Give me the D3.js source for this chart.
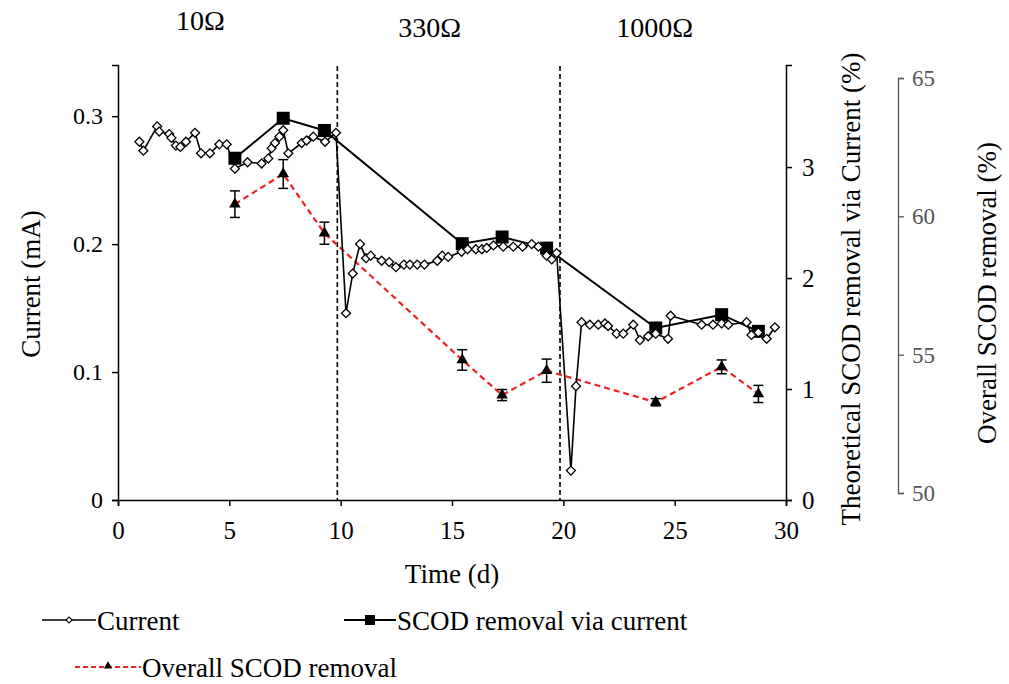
<!DOCTYPE html>
<html>
<head>
<meta charset="utf-8">
<script src="https://cdn.jsdelivr.net/npm/d3@7"></script>
<style>
  html, body { margin: 0; padding: 0; background: #fff; }
  svg { display: block; }
  text { font-family: "Liberation Serif", "Times New Roman", serif; }
</style>
</head>
<body>
<svg id="chart" width="1009" height="684"></svg>
<script>
// Current (mA) logged over the run
const currentDays = [
  0.96, 1.14, 1.76, 1.85, 2.30, 2.40, 2.60, 2.80, 3.05, 3.46, 3.73, 4.13, 4.55, 4.88,
  5.25, 5.82, 6.45, 6.75, 6.90, 7.05, 7.25, 7.42, 7.65, 8.25, 8.47, 8.77, 9.30, 9.79,
  10.24, 10.54, 10.87, 11.14, 11.35, 11.84, 12.18, 12.48, 12.84, 13.11, 13.44, 13.76,
  14.34, 14.56, 14.83, 15.43, 15.70, 16.07, 16.34, 16.56, 16.86, 17.30, 17.75, 18.17,
  18.58, 18.88, 19.25, 19.48, 19.70,
  20.34, 20.57, 20.82, 21.19, 21.57, 21.87, 22.01, 22.39, 22.69, 23.14, 23.44, 23.81,
  24.15, 24.70, 24.82, 26.21, 26.72, 27.11, 27.41, 28.23, 28.45, 28.76, 29.13, 29.50
];
const currentValues = [
  0.280, 0.273, 0.292, 0.288, 0.286, 0.283, 0.277, 0.276, 0.280, 0.287, 0.271, 0.271, 0.278, 0.278,
  0.259, 0.264, 0.263, 0.267, 0.275, 0.279, 0.284, 0.289, 0.271, 0.279, 0.281, 0.284, 0.280, 0.287,
  0.146, 0.177, 0.200, 0.189, 0.191, 0.187, 0.186, 0.182, 0.184, 0.184, 0.184, 0.184,
  0.187, 0.191, 0.190, 0.194, 0.196, 0.196, 0.196, 0.197, 0.199, 0.198, 0.198, 0.198,
  0.200, 0.198, 0.191, 0.188, 0.193,
  0.023, 0.089, 0.139, 0.137, 0.137, 0.138, 0.136, 0.130, 0.130, 0.137, 0.125, 0.128,
  0.130, 0.126, 0.144, 0.137, 0.137, 0.138, 0.137, 0.139, 0.129, 0.131, 0.126, 0.135
];

// Sampling days for SCOD measurements
const sampleDays = [5.25, 7.42, 9.27, 15.46, 17.25, 19.25, 24.15, 27.11, 28.76];
// Theoretical SCOD removal via current (%)
const scodViaCurrent = [3.08, 3.44, 3.33, 2.31, 2.37, 2.27, 1.55, 1.67, 1.52];
// Overall SCOD removal (%) and its error
const scodOverall = [60.44, 61.53, 59.39, 54.81, 53.54, 54.42, 53.28, 54.56, 53.58];
const scodOverallErr = [0.48, 0.52, 0.40, 0.37, 0.20, 0.42, 0.13, 0.25, 0.31];

// Resistor switch days and stage labels
const switchDays = [9.85, 19.85];
const stageLabels = ["10Ω", "330Ω", "1000Ω"];
const stageLabelDays = [3.7, 14.0, 24.1];

const xTicks = [0, 5, 10, 15, 20, 25, 30];
const leftTicks = [0, 0.1, 0.2, 0.3];
const rightTicks = [0, 1, 2, 3];
const thirdTicks = [50, 55, 60, 65];

const svg = d3.select("#chart");
const font = "Liberation Serif, Times New Roman, serif";

const x = d3.scaleLinear().domain([0, 30]).range([118, 786]);
const yLeft = d3.scaleLinear().domain([0, 0.34]).range([500, 65]);
const yRight = d3.scaleLinear().domain([0, 3.92]).range([500, 65]);
const yThird = d3.scaleLinear().domain([50, 65]).range([493, 78]);

function styleAxis(g, color, size) {
  g.selectAll("path, line").attr("stroke", color).attr("stroke-width", 1.5);
  g.selectAll("text").attr("fill", color).style("font-family", font).style("font-size", size + "px");
}

// x axis
svg.append("g")
  .attr("transform", "translate(0,500)")
  .call(d3.axisBottom(x).tickValues(xTicks).tickSizeOuter(0).tickSize(6).tickPadding(15).tickFormat(d3.format("d")))
  .call(g => styleAxis(g, "#000", 25));

// left axis
svg.append("g")
  .attr("transform", "translate(118,0)")
  .call(d3.axisLeft(yLeft).tickValues(leftTicks).tickSizeOuter(0).tickSize(6).tickPadding(9)
    .tickFormat(d => d === 0 ? "0" : d3.format(".1f")(d)))
  .call(g => styleAxis(g, "#000", 24));

// right axis
svg.append("g")
  .attr("transform", "translate(786,0)")
  .call(d3.axisRight(yRight).tickValues(rightTicks).tickSizeOuter(0).tickSize(6).tickPadding(10).tickFormat(d3.format("d")))
  .call(g => styleAxis(g, "#000", 25));

// third axis for overall removal
const third = svg.append("g")
  .attr("transform", "translate(898,0)")
  .call(d3.axisRight(yThird).tickValues(thirdTicks).tickSizeOuter(0).tickSize(6).tickPadding(8).tickFormat(d3.format("d")))
  .call(g => styleAxis(g, "#555", 23));
third.selectAll("path, line").attr("stroke-width", 1.3);

// axis titles
svg.append("text")
  .attr("x", 452).attr("y", 583)
  .attr("text-anchor", "middle")
  .style("font-size", "27px")
  .text("Time (d)");
svg.append("text")
  .attr("transform", "translate(40,284) rotate(-90)")
  .attr("text-anchor", "middle")
  .style("font-size", "27px")
  .text("Current (mA)");
svg.append("text")
  .attr("transform", "translate(860,289) rotate(-90)")
  .attr("text-anchor", "middle")
  .style("font-size", "27px")
  .text("Theoretical SCOD removal via Current (%)");
svg.append("text")
  .attr("transform", "translate(996,293) rotate(-90)")
  .attr("text-anchor", "middle")
  .style("font-size", "27px")
  .text("Overall SCOD removal (%)");

// stage labels
svg.selectAll("text.stage")
  .data(stageLabels)
  .join("text")
  .attr("class", "stage")
  .attr("x", (d, i) => x(stageLabelDays[i]))
  .attr("y", (d, i) => i === 0 ? 30 : 37)
  .attr("text-anchor", "middle")
  .style("font-size", "28px")
  .text(d => d);

// resistor switch markers
svg.selectAll("line.switch")
  .data(switchDays)
  .join("line")
  .attr("class", "switch")
  .attr("x1", d => x(d)).attr("x2", d => x(d))
  .attr("y1", 66).attr("y2", 500)
  .attr("stroke", "#000")
  .attr("stroke-width", 1.6)
  .attr("stroke-dasharray", "5,3");

const currentData = currentDays.map((d, i) => ({ d, v: currentValues[i] }));
const sampleData = sampleDays.map((d, i) => ({
  d, via: scodViaCurrent[i], ov: scodOverall[i], err: scodOverallErr[i]
}));

// overall SCOD removal: red dashed line, error bars, triangles
svg.append("path")
  .datum(sampleData)
  .attr("fill", "none")
  .attr("stroke", "#ee2222")
  .attr("stroke-width", 2.2)
  .attr("stroke-dasharray", "6,4")
  .attr("d", d3.line().x(p => x(p.d)).y(p => yThird(p.ov)));

const eb = svg.append("g").attr("stroke", "#000").attr("stroke-width", 1.5);
sampleData.forEach(p => {
  const cx = x(p.d), y1 = yThird(p.ov + p.err), y2 = yThird(p.ov - p.err);
  eb.append("line").attr("x1", cx).attr("x2", cx).attr("y1", y1).attr("y2", y2);
  eb.append("line").attr("x1", cx - 5).attr("x2", cx + 5).attr("y1", y1).attr("y2", y1);
  eb.append("line").attr("x1", cx - 5).attr("x2", cx + 5).attr("y1", y2).attr("y2", y2);
});

svg.selectAll("path.tri")
  .data(sampleData)
  .join("path")
  .attr("class", "tri")
  .attr("d", d3.symbol(d3.symbolTriangle, 58))
  .attr("transform", p => `translate(${x(p.d)},${yThird(p.ov)})`)
  .attr("fill", "#000");

// current series
svg.append("path")
  .datum(currentData)
  .attr("fill", "none")
  .attr("stroke", "#000")
  .attr("stroke-width", 1.6)
  .attr("d", d3.line().x(p => x(p.d)).y(p => yLeft(p.v)));

// theoretical SCOD removal via current
svg.append("path")
  .datum(sampleData)
  .attr("fill", "none")
  .attr("stroke", "#000")
  .attr("stroke-width", 2)
  .attr("d", d3.line().x(p => x(p.d)).y(p => yRight(p.via)));

svg.selectAll("rect.sq")
  .data(sampleData)
  .join("rect")
  .attr("class", "sq")
  .attr("x", p => x(p.d) - 6.5)
  .attr("y", p => yRight(p.via) - 6.5)
  .attr("width", 13).attr("height", 13)
  .attr("fill", "#000");

svg.selectAll("path.dia")
  .data(currentData)
  .join("path")
  .attr("class", "dia")
  .attr("d", d3.symbol(d3.symbolSquare, 40))
  .attr("transform", p => `translate(${x(p.d)},${yLeft(p.v)}) rotate(45)`)
  .attr("fill", "#fff")
  .attr("stroke", "#000")
  .attr("stroke-width", 1.3);

// legend
const lg = svg.append("g");
lg.append("line").attr("x1", 42).attr("x2", 96).attr("y1", 620).attr("y2", 620)
  .attr("stroke", "#000").attr("stroke-width", 1.6);
lg.append("path").attr("d", d3.symbol(d3.symbolSquare, 18))
  .attr("transform", "translate(69,620) rotate(45)")
  .attr("fill", "#fff").attr("stroke", "#000").attr("stroke-width", 1.2);
lg.append("text").attr("x", 97).attr("y", 630).style("font-size", "27px").text("Current");

lg.append("line").attr("x1", 344).attr("x2", 396).attr("y1", 620).attr("y2", 620)
  .attr("stroke", "#000").attr("stroke-width", 2);
lg.append("rect").attr("x", 365).attr("y", 615).attr("width", 10).attr("height", 10).attr("fill", "#000");
lg.append("text").attr("x", 397).attr("y", 630).style("font-size", "27px").text("SCOD removal via current");

lg.append("line").attr("x1", 75).attr("x2", 141).attr("y1", 667).attr("y2", 667)
  .attr("stroke", "#ee2222").attr("stroke-width", 2).attr("stroke-dasharray", "5,3");
lg.append("path").attr("d", d3.symbol(d3.symbolTriangle, 30))
  .attr("transform", "translate(108,666)").attr("fill", "#000");
lg.append("text").attr("x", 142).attr("y", 677).style("font-size", "27px").text("Overall SCOD removal");
</script>
</body>
</html>
